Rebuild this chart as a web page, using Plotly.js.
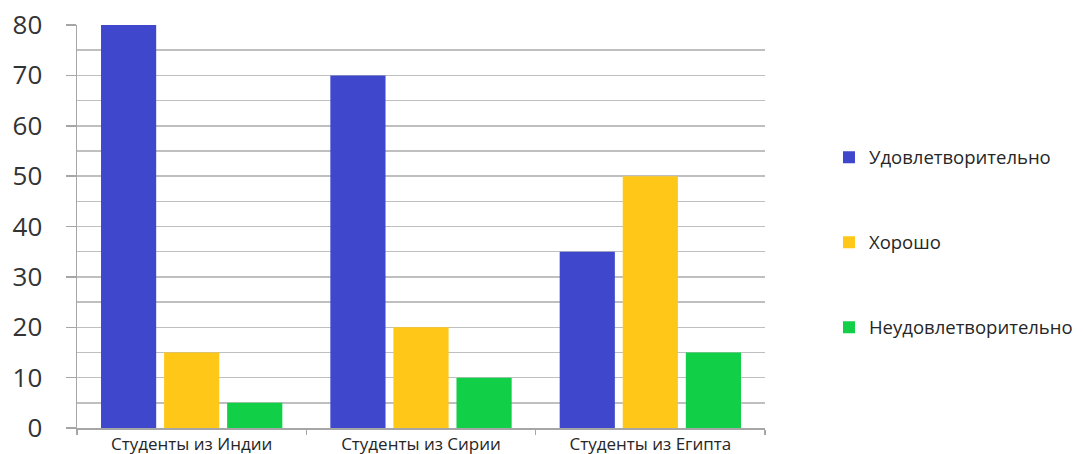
<!DOCTYPE html>
<html>
<head>
<meta charset="utf-8">
<script src="https://cdn.plot.ly/plotly-3.0.1.min.js"></script>
<style>html,body{margin:0;padding:0;background:#fff;}</style>
</head>
<body>
<div id="chart" style="width:1083px;height:454px;"></div>
<script>
const categories = ["Студенты из Индии", "Студенты из Сирии", "Студенты из Египта"];
const seriesNames = ["Удовлетворительно", "Хорошо", "Неудовлетворительно"];
const satisfactory = [80, 70, 35];
const good = [15, 20, 50];
const unsatisfactory = [5, 10, 15];
const colors = ["#3F48CC", "#FFC819", "#12CF48"];

const values = [satisfactory, good, unsatisfactory];
const traces = values.map((v, i) => ({
  type: "bar",
  name: seriesNames[i],
  x: categories,
  y: v,
  marker: {color: colors[i], line: {color: colors[i], width: 0}},
  legendgroup: "g" + i,
  hoverinfo: "x+y+name"
}));

const layout = {
  width: 1083,
  height: 454,
  margin: {l: 77, r: 318, t: 25, b: 26, autoexpand: false},
  paper_bgcolor: "#ffffff",
  plot_bgcolor: "#ffffff",
  font: {family: "Open Sans, Noto Sans, sans-serif", color: "#262626"},
  barmode: "group",
  bargap: 0.175,
  bargroupgap: 0.125,
  showlegend: true,
  legend: {
    x: 1.093, xanchor: "left",
    y: 0.46, yanchor: "middle",
    font: {size: 18.5, color: "#262626"},
    tracegroupgap: 58,
    itemwidth: 30
  },
  xaxis: {
    type: "category",
    automargin: false,
    showline: true,
    linecolor: "#a6a6a6",
    linewidth: 1.5,
    ticks: "outside",
    tickson: "boundaries",
    ticklen: 5,
    tickcolor: "#a6a6a6",
    tickwidth: 1.5,
    tickfont: {size: 17, color: "#262626"},
    showgrid: false,
    zeroline: false
  },
  yaxis: {
    range: [0, 80],
    dtick: 10,
    automargin: false,
    showline: true,
    linecolor: "#a6a6a6",
    linewidth: 1.5,
    ticks: "outside",
    ticklen: 10,
    tickcolor: "#a6a6a6",
    tickwidth: 1.5,
    ticklabelstandoff: 18,
    tickfont: {size: 26, color: "#333333"},
    showgrid: true,
    gridcolor: "#bfbfbf",
    gridwidth: 1.5,
    zeroline: false,
    minor: {dtick: 5, showgrid: true, gridcolor: "#bfbfbf", gridwidth: 1.5}
  }
};

Plotly.newPlot("chart", traces, layout, {displayModeBar: false, staticPlot: true});
</script>
</body>
</html>
